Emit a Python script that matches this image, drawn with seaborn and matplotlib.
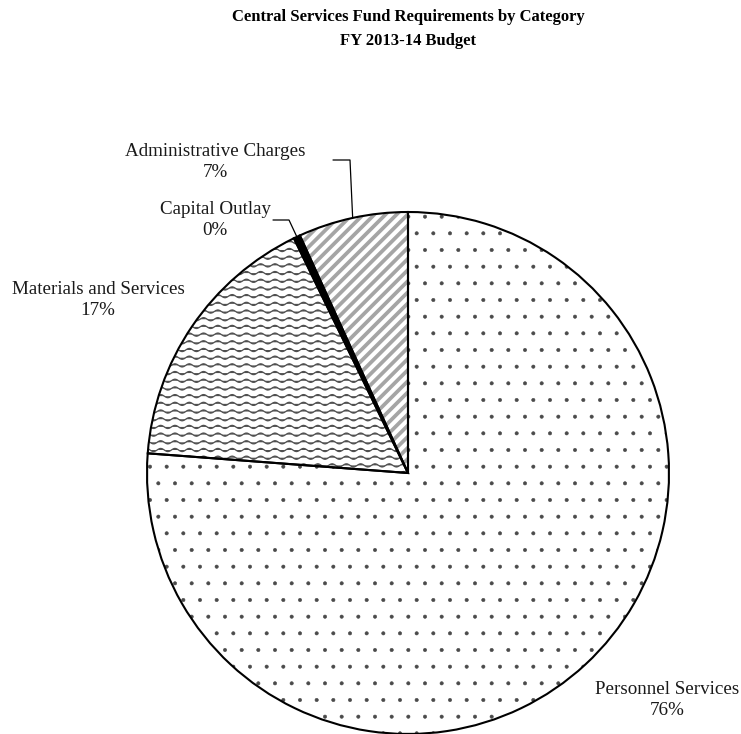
import warnings
import numpy as np
import matplotlib
matplotlib.use("Agg")
import matplotlib.pyplot as plt
import matplotlib.hatch as mhatch
from matplotlib.path import Path
import seaborn as sns

warnings.filterwarnings("ignore")

# ---------------- data ----------------
categories = ["Personnel Services", "Materials and Services",
              "Capital Outlay", "Administrative Charges"]
values = [76.2, 16.6, 0.4, 6.8]
title_lines = ["Central Services Fund Requirements by Category",
               "FY 2013-14 Budget"]

# ---------------- custom hatches ----------------
class WaveHatch(mhatch.HatchPatternBase):
    rows_per_char = 13
    periods = 7
    amp = 0.016
    seg = 84

    def __init__(self, hatch, density):
        self.num_lines = int(hatch.count('~') * self.rows_per_char)
        self.num_vertices = self.num_lines * (self.seg + 1)

    def set_vertices_and_codes(self, vertices, codes):
        x = np.linspace(-1 / 14, 1 + 1 / 14, self.seg + 1)
        n = self.seg + 1
        for i in range(self.num_lines):
            y0 = (i + 0.5) / self.num_lines
            vertices[i * n:(i + 1) * n, 0] = x
            vertices[i * n:(i + 1) * n, 1] = y0 + self.amp * np.sin(2 * np.pi * self.periods * x)
            codes[i * n:(i + 1) * n] = Path.LINETO
            codes[i * n] = Path.MOVETO


class DiagHatch(mhatch.HatchPatternBase):
    per_char = 9  # lines per tile (tiling-safe: offset spacing 1/m)

    def __init__(self, hatch, density):
        self.m = int(hatch.count('d') * self.per_char)
        self.offsets = np.arange(-2 * self.m, 2 * self.m + 1) / self.m if self.m else np.array([])
        self.num_vertices = 2 * len(self.offsets)

    def set_vertices_and_codes(self, vertices, codes):
        c = self.offsets
        vertices[0::2, 0] = c - 0.5
        vertices[0::2, 1] = -0.5
        vertices[1::2, 0] = c + 1.5
        vertices[1::2, 1] = 1.5
        codes[0::2] = Path.MOVETO
        codes[1::2] = Path.LINETO


mhatch._hatch_types.append(WaveHatch)
mhatch._hatch_types.append(DiagHatch)

# ---------------- styling ----------------
sns.set_theme(style="white")
plt.rcParams['font.family'] = ['Liberation Serif', 'DejaVu Serif']

W, H, DPI = 741, 734, 100
fig = plt.figure(figsize=(W / DPI, H / DPI), dpi=DPI)
fig.patch.set_facecolor("white")

CX, CY, R = 408, 473, 261  # pixel layout of the pie


def fx(px):
    return px / W


def fy(py):
    return 1 - py / H


ax = fig.add_axes([fx(CX - R), fy(CY + R), 2 * R / W, 2 * R / H])

hatches = ['.', '~', '', 'd']
hatch_colors = ['#4a4a4a', '#505050', 'black', '#a5a5a5']
hatch_lws = [0.4, 0.9, 1.0, 2.7]
faces = ['white', 'white', 'black', 'white']

wedges, _ = ax.pie(values, startangle=90, counterclock=False, radius=1,
                   colors=faces)
for w, h, hc, lw in zip(wedges, hatches, hatch_colors, hatch_lws):
    w.set_hatch(h)
    w.set_edgecolor(hc)
    w.set_linewidth(0)
    if hasattr(w, "set_hatch_linewidth"):
        w.set_hatch_linewidth(lw)

# outlines
edges, _ = ax.pie(values, startangle=90, counterclock=False, radius=1,
                  wedgeprops=dict(fill=False, edgecolor='black', linewidth=1.5))

ax.set_xlim(-1, 1)
ax.set_ylim(-1, 1)
ax.set_aspect('equal')
ax.axis("off")

# ---------------- labels ----------------
label_pos = [(667, 700), (98, 300), (215, 220), (215, 162)]
leaders = [None, None, [(273, 220), (289, 220)], [(333, 160), (350, 160)]]

for cat, val, (px, py) in zip(categories, values, label_pos):
    fig.text(fx(px), fy(py), f"{cat}\n{val:.0f}%", ha='center', va='center',
             fontsize=13.7, linespacing=1.28, color='#1a1a1a')

for w, lead in zip(wedges, leaders):
    if lead is None:
        continue
    mid = np.deg2rad((w.theta1 + w.theta2) / 2)
    ex, ey = np.cos(mid) * w.r, np.sin(mid) * w.r
    xs = [(p[0] - CX) / R for p in lead] + [ex]
    ys = [(CY - p[1]) / R for p in lead] + [ey]
    ax.plot(xs, ys, color='black', lw=0.9, clip_on=False)

# ---------------- title ----------------
for line, py in zip(title_lines, [17, 41]):
    fig.text(fx(408), fy(py), line, ha='center', va='center',
             fontsize=12, fontweight='bold', color='black')

fig.savefig("out.png", dpi=DPI, facecolor="white")
